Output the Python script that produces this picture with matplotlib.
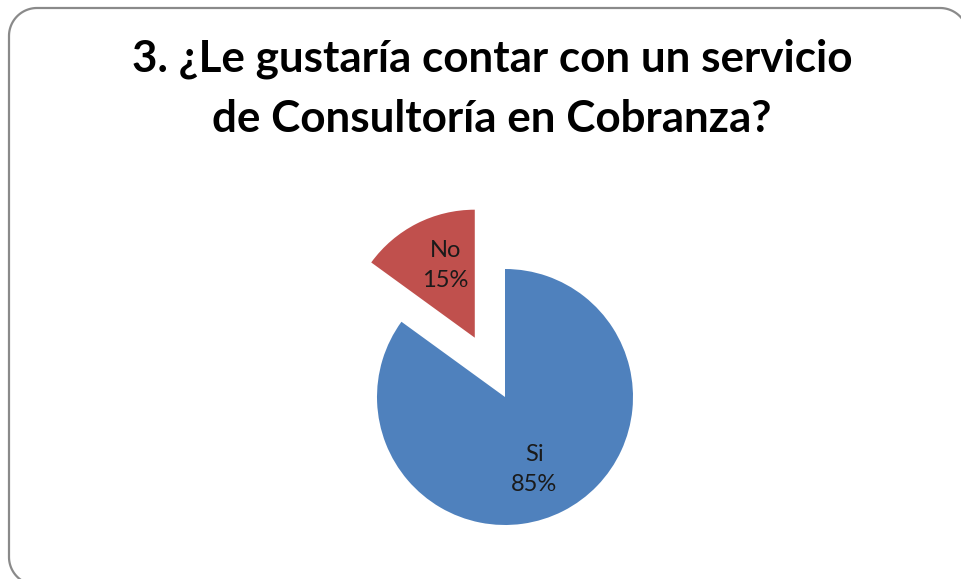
import numpy as np
import matplotlib.pyplot as plt

# survey answers
categories = ["Si", "No"]
percentages = [85, 15]
colors = ["#4F81BD", "#C0504D"]
title = "3. ¿Le gustaría contar con un servicio\nde Consultoría en Cobranza?"

W, H = 961, 579
fig = plt.figure(figsize=(W / 100, H / 100), dpi=100)
fig.patch.set_facecolor("white")

# background axes in pixel coordinates for the frame and the title
bg = fig.add_axes([0, 0, 1, 1])
bg.set_xlim(0, W)
bg.set_ylim(0, H)
bg.axis("off")


def arc(xc, yc, r, a0, a1, n=30):
    t = np.radians(np.linspace(a0, a1, n))
    return xc + r * np.cos(t), yc + r * np.sin(t)


# rounded frame, right and bottom edges run off the canvas
rad = 28
left, right, bottom, top = 9, 968, -6, H - 8
pieces = [
    arc(right - rad, top - rad, rad, -10, 90),
    arc(left + rad, top - rad, rad, 90, 180),
    arc(left + rad, bottom + rad, rad, 180, 270),
]
fx = np.concatenate([[right], pieces[0][0], pieces[1][0], pieces[2][0], [200]])
fy = np.concatenate([[H / 2], pieces[0][1], pieces[1][1], pieces[2][1], [bottom]])
bg.plot(fx, fy, color="#8a8a8a", lw=1.6, solid_joinstyle="round")

bg.text(492, H - 89, title, ha="center", va="center", fontsize=31.7,
        family="Lato", fontweight="bold", color="black", linespacing=1.6)

# pie axes: a square of 2*half px centred on the pie centre, radius 128 px
cx, cy, r_px, half = 505, 397, 128, 180
ax = fig.add_axes([(cx - half) / W, (H - cy - half) / H, 2 * half / W, 2 * half / H])
labels = [f"{c}\n{p}%" for c, p in zip(categories, percentages)]
wedges, texts = ax.pie(
    percentages,
    labels=labels,
    colors=colors,
    startangle=90,
    counterclock=False,
    explode=[0, 0.52],
    labeldistance=0.62,
    wedgeprops=dict(linewidth=0),
    textprops=dict(fontsize=17, family="Lato", color="#1a1a1a", linespacing=1.5),
)
# labels sit a little clockwise of each wedge's bisector
for w, t in zip(wedges, texts):
    ang = np.radians((w.theta1 + w.theta2) / 2 - 5)
    x0, y0 = w.center
    t.set_position((x0 + 0.61 * np.cos(ang), y0 + 0.61 * np.sin(ang)))
    t.set_ha("center")
    t.set_va("center")

lim = half / r_px
ax.set_xlim(-lim, lim)
ax.set_ylim(-lim, lim)
ax.set_aspect("equal")
ax.axis("off")

fig.savefig("out.png", dpi=100, facecolor="white")
